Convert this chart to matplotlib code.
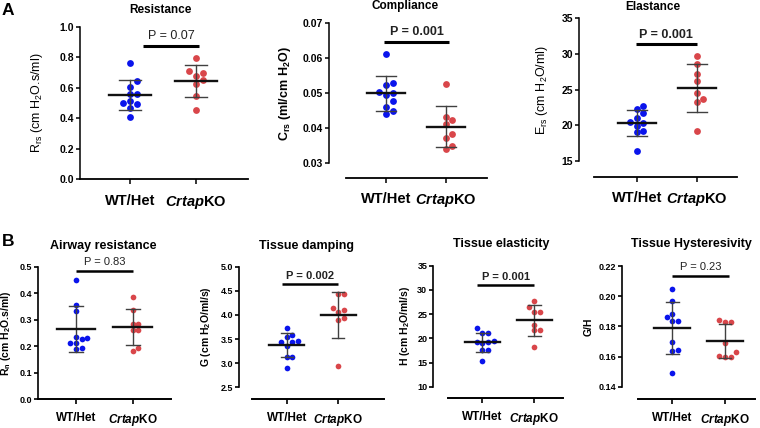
import numpy as np
import matplotlib
matplotlib.use("Agg")
import matplotlib.pyplot as plt

plt.rcParams['font.family'] = ['Liberation Sans', 'DejaVu Sans']
plt.rcParams['mathtext.fontset'] = 'custom'
plt.rcParams['mathtext.rm'] = 'Liberation Sans'
plt.rcParams['mathtext.it'] = 'Liberation Sans:italic:bold'
plt.rcParams['mathtext.bf'] = 'Liberation Sans:bold'

W, H, DPI = 760, 428, 100

# ---- data ----
groups = ["WT/Het", "$\\mathit{Crtap}$KO"]

res_wt = [0.764, 0.643, 0.606, 0.558, 0.556, 0.500, 0.512, 0.494, 0.468, 0.410]
res_ko = [0.792, 0.696, 0.711, 0.678, 0.648, 0.622, 0.547, 0.455]
comp_wt = [0.0611, 0.0524, 0.0529, 0.0495, 0.0505, 0.0500, 0.0478, 0.0462, 0.0450, 0.0441]
comp_ko = [0.0526, 0.0431, 0.0424, 0.0411, 0.0371, 0.0383, 0.0340, 0.0350]
ela_wt = [22.75, 22.29, 21.77, 20.98, 20.28, 20.42, 19.91, 19.21, 19.02, 16.45]
ela_ko = [29.76, 28.60, 27.15, 26.17, 24.49, 23.69, 23.27, 19.21]
rn_wt = [0.450, 0.355, 0.333, 0.234, 0.232, 0.227, 0.213, 0.213, 0.195, 0.188]
rn_ko = [0.384, 0.337, 0.283, 0.284, 0.261, 0.261, 0.192, 0.182]
g_wt = [3.72, 3.47, 3.44, 3.54, 3.58, 3.44, 3.36, 3.13, 3.13, 2.89]
g_ko = [4.44, 4.44, 4.15, 4.10, 4.06, 3.94, 3.89, 2.94]
h_wt = [22.1, 21.1, 21.1, 19.5, 19.3, 19.0, 19.2, 17.5, 17.5, 15.3]
h_ko = [27.8, 26.4, 25.5, 25.5, 22.8, 21.7, 21.7, 18.1]
gh_wt = [0.2047, 0.1970, 0.1880, 0.1864, 0.1835, 0.1835, 0.1694, 0.1640, 0.1636, 0.1489]
gh_ko = [0.1842, 0.1826, 0.1826, 0.1691, 0.1628, 0.1595, 0.1595, 0.1605]

titles = ["Resistance", "Compliance", "Elastance",
          "Airway resistance", "Tissue damping", "Tissue elasticity", "Tissue Hysteresivity"]
p_texts = ["P = 0.07", "P = 0.001", "P = 0.001", "P = 0.83", "P = 0.002", "P = 0.001", "P = 0.23"]
p_bold = [False, True, True, False, True, True, False]
ylabels = ["R$_{\\mathrm{rs}}$ (cm H$_{\\mathrm{2}}$O.s/ml)",
           "C$_{\\mathbf{rs}}$ (ml/cm H$_{\\mathbf{2}}$O)",
           "E$_{\\mathrm{rs}}$ (cm H$_{\\mathrm{2}}$O/ml)",
           "R$_{\\mathbf{n}}$ (cm H$_{\\mathbf{2}}$O.s/ml)",
           "G (cm H$_{\\mathbf{2}}$O/ml/s)",
           "H (cm H$_{\\mathbf{2}}$O/ml/s)",
           "G/H"]
ylabel_bold = [False, True, False, True, True, True, True]
ylims = [(0, 1.0), (0.03, 0.07), (15, 35), (0, 0.5), (2.5, 5.0), (10, 35), (0.14, 0.22)]
ysteps = [0.2, 0.01, 5, 0.1, 0.5, 5, 0.02]
yfmt = ["%.1f", "%.2f", "%d", "%.1f", "%.1f", "%d", "%.2f"]
p_bar_y = [0.875, 0.0647, 31.4, 0.485, 4.64, 31.0, 0.2134]

series = [(res_wt, res_ko), (comp_wt, comp_ko), (ela_wt, ela_ko),
          (rn_wt, rn_ko), (g_wt, g_ko), (h_wt, h_ko), (gh_wt, gh_ko)]

# ---- layout (pixels): left, right, top, bottom of plot area; x-axis offset; x-axis start ----
layout = [
    dict(l=80, r=248, t=26.7, b=179, wt=130, ko=196, off=0, xs=80, lab=45, tt=(160, 10), bar=(0.2, 1.05)),
    dict(l=329, r=487, t=23.3, b=163.3, wt=386, ko=445.7, off=14.4, xs=345.7, lab=293, tt=(405, 6.5), bar=(-0.03, 1.06)),
    dict(l=579, r=737, t=18.3, b=161, wt=636.7, ko=696.7, off=15.7, xs=594.3, lab=550, tt=(653, 7), bar=(-0.01, 1.0)),
    dict(l=38.3, r=170.7, t=266.7, b=399.3, wt=76, ko=132.7, off=0, xs=38.3, lab=13.5, tt=(103, 245.5), bar=(0.0, 1.0)),
    dict(l=239, r=384, t=266.7, b=387.3, wt=286.7, ko=338.3, off=12, xs=252.3, lab=213.5, tt=(306.5, 245.5), bar=(-0.1, 1.0)),
    dict(l=433.3, r=562.7, t=265.7, b=386.7, wt=482.3, ko=534.3, off=11.6, xs=448.3, lab=411.5, tt=(501.5, 244.5), bar=(-0.1, 1.0)),
    dict(l=622.3, r=755, t=266, b=386.7, wt=672.3, ko=725, off=12.6, xs=638.3, lab=593.5, tt=(691.5, 244.5), bar=(-0.01, 1.08)),
]

BLUE = "#0a14ec"
RED = "#d9464a"


def swarm(vals, y_px_per_unit, x_px_per_unit, d_px):
    """Simple beeswarm: place points on a grid of columns so they don't overlap."""
    vals = np.asarray(vals, dtype=float)
    offs = np.zeros(len(vals))
    placed = []
    cands = [0] + [s * j for j in range(1, 8) for s in (1, -1)]
    for i in np.argsort(vals):
        y = vals[i] * y_px_per_unit
        for c in cands:
            if all(((c - pc) * d_px) ** 2 + (y - py) ** 2 >= (0.95 * d_px) ** 2 for pc, py in placed):
                break
        placed.append((c, y))
        offs[i] = c * d_px / x_px_per_unit
    return offs


fig = plt.figure(figsize=(W / DPI, H / DPI), dpi=DPI)

for k, (lo, (wt, ko)) in enumerate(zip(layout, series)):
    top_row = k < 3
    unit = lo["ko"] - lo["wt"]
    xmin = -(lo["wt"] - lo["l"]) / unit
    xmax = 1 + (lo["r"] - lo["ko"]) / unit
    ax = fig.add_axes([lo["l"] / W, 1 - lo["b"] / H, (lo["r"] - lo["l"]) / W, (lo["b"] - lo["t"]) / H])
    ax.set_xlim(xmin, xmax)
    ax.set_ylim(*ylims[k])
    for s in ("top", "right"):
        ax.spines[s].set_visible(False)
    spw = 1.1 if top_row else 1.2
    ax.spines["left"].set_linewidth(spw)
    ax.spines["bottom"].set_linewidth(spw + 0.2)
    ax.spines["bottom"].set_position(("outward", lo["off"] * 72 / DPI))
    ax.spines["bottom"].set_bounds(-(lo["wt"] - lo["xs"]) / unit, xmax)

    yl = ylims[k]
    yt = np.arange(yl[0], yl[1] + ysteps[k] / 2, ysteps[k])
    ax.set_yticks(yt)
    ax.set_yticklabels([yfmt[k] % v for v in yt])
    ax.set_xticks([0, 1])
    ax.set_xticklabels(groups)
    tick_fs = 7.5 if top_row else 6.5
    xt_fs = 10.5 if top_row else 8.5
    ax.tick_params(axis="y", length=2.8, width=spw, pad=1.5, labelsize=tick_fs)
    ax.tick_params(axis="x", length=3.5, width=spw, pad=7 if top_row else 6, labelsize=xt_fs)
    for t in ax.get_yticklabels() + ax.get_xticklabels():
        t.set_fontweight("bold")

    ax.set_ylabel(ylabels[k], fontsize=9 if top_row else 7.5,
                  fontweight="bold" if ylabel_bold[k] else "normal")
    ax.yaxis.set_label_coords((lo["lab"] - lo["l"]) / (lo["r"] - lo["l"]), 0.5)

    fig.text(lo["tt"][0] / W, 1 - lo["tt"][1] / H, titles[k], ha="center", va="center",
             fontsize=8.5 if top_row else 9, fontweight="bold")

    # points, mean and SD
    y_ppu = (lo["b"] - lo["t"]) / (yl[1] - yl[0])
    d = 6.6 if top_row else 5.6
    ms = 4.9 if top_row else 4.1
    half = 0.32 if top_row else 0.34
    cap = 0.17 if top_row else 0.12
    for xi, (vals, col) in enumerate([(wt, BLUE), (ko, RED)]):
        offs = swarm(vals, y_ppu, unit, d)
        ax.plot(xi + offs, vals, "o", color=col, ms=ms, mec="none", zorder=2, clip_on=False)
        m = np.mean(vals)
        sd = np.std(vals, ddof=1)
        ax.plot([xi, xi], [m - sd, m + sd], color="#404040", lw=1.0, zorder=3)
        ax.plot([xi - cap, xi + cap], [m + sd, m + sd], color="#404040", lw=1.0, zorder=3)
        ax.plot([xi - cap, xi + cap], [m - sd, m - sd], color="#404040", lw=1.0, zorder=3)
        ax.plot([xi - half, xi + half], [m, m], color="#111111", lw=1.7, zorder=3)

    # significance bar
    b0, b1 = lo["bar"]
    ax.plot([b0, b1], [p_bar_y[k]] * 2, color="black", lw=2.2 if top_row else 1.8,
            solid_capstyle="butt", clip_on=False)
    ax.annotate(p_texts[k], xy=((b0 + b1) / 2, p_bar_y[k]), xytext=(0, 2.5),
                textcoords="offset points", ha="center", va="bottom",
                fontsize=9 if top_row else 8, fontweight="bold" if p_bold[k] else "normal",
                color="#222222", annotation_clip=False)

fig.text(2 / W, 1 - 3 / H, "A", ha="left", va="top", fontsize=12.5, fontweight="bold")
fig.text(2 / W, 1 - 234 / H, "B", ha="left", va="top", fontsize=12.5, fontweight="bold")

fig.savefig("out.png", dpi=DPI)
